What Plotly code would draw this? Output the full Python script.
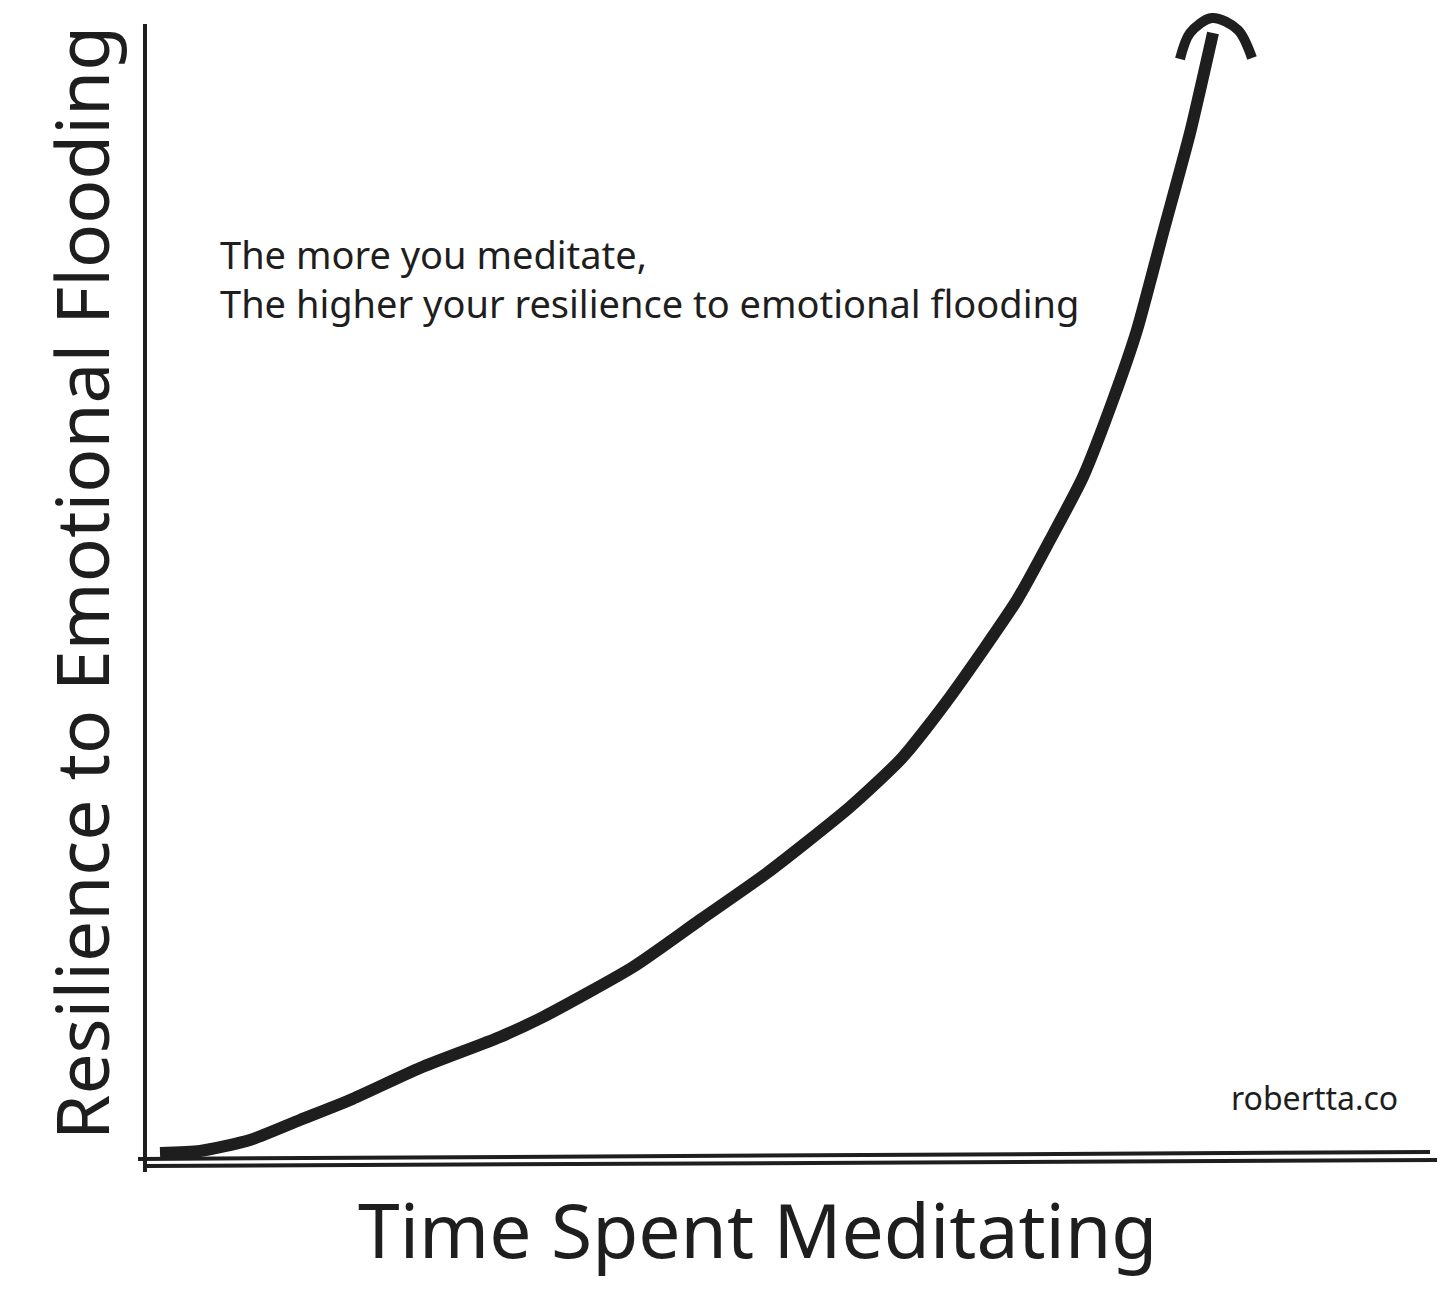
import plotly.graph_objects as go

# Data (abstract units: time spent meditating vs resilience)
time_spent = [0.15, 0.55, 1.05, 1.55, 2.05, 2.75, 3.55, 3.98, 4.88, 5.55, 6.22, 7.05, 7.57, 8.05,
              8.72, 9.05, 9.38, 9.68, 9.92, 10.18, 10.45, 10.68]
resilience = [0.07, 0.09, 0.20, 0.40, 0.60, 0.92, 1.23, 1.43, 1.93, 2.40, 2.87, 3.53, 4.02, 4.63,
              5.60, 6.20, 6.83, 7.60, 8.30, 9.27, 10.27, 11.27]

arrow_x = [10.35, 10.45, 10.67, 10.93, 11.07]
arrow_y = [11.01, 11.27, 11.42, 11.30, 11.02]

x_title = "Time Spent Meditating"
y_title = "Resilience to Emotional Flooding"
note_lines = ["The more you meditate,", "The higher your resilience to emotional flooding"]
credit = "robertta.co"

INK = "#1e1e1e"
W, H = 1456, 1300
FONT = "Noto Sans"
OFF = 8  # page body margin


def px(v):
    return (v - OFF) / W


def py(v):
    return 1 - (v - OFF) / H


fig = go.Figure()
fig.add_trace(go.Scatter(x=time_spent, y=resilience, mode="lines",
                         line=dict(color=INK, width=12, shape="spline", smoothing=0.6),
                         hoverinfo="skip", showlegend=False))
fig.add_trace(go.Scatter(x=arrow_x, y=arrow_y, mode="lines",
                         line=dict(color=INK, width=10, shape="spline", smoothing=0.9),
                         hoverinfo="skip", showlegend=False))

# hand-drawn axis lines
fig.add_shape(type="line", x0=0, y0=-0.12, x1=0.0, y1=11.36, xref="x", yref="y",
              line=dict(color=INK, width=4))
fig.add_shape(type="line", x0=-0.07, y0=0.01, x1=12.85, y1=0.08, xref="x", yref="y",
              line=dict(color=INK, width=4))
fig.add_shape(type="line", x0=0.0, y0=-0.06, x1=12.92, y1=0.0, xref="x", yref="y",
              line=dict(color=INK, width=4))

fig.add_annotation(text=y_title, x=px(80), y=py(583), xref="paper", yref="paper",
                   textangle=-90, showarrow=False, xanchor="center", yanchor="middle",
                   font=dict(family=FONT, size=73, color=INK))
fig.add_annotation(text=x_title, x=px(758), y=py(1229), xref="paper", yref="paper",
                   showarrow=False, xanchor="center", yanchor="middle",
                   font=dict(family=FONT, size=75, color=INK))
fig.add_annotation(text="<br>".join(note_lines), x=px(218), y=py(278), xref="paper", yref="paper",
                   showarrow=False, xanchor="left", yanchor="middle", align="left",
                   font=dict(family=FONT, size=38, color=INK))
fig.add_annotation(text=credit, x=px(1400), y=py(1097), xref="paper", yref="paper",
                   showarrow=False, xanchor="right", yanchor="middle",
                   font=dict(family=FONT, size=32, color=INK))

fig.update_layout(width=W, height=H, margin=dict(l=0, r=0, t=0, b=0),
                  paper_bgcolor="white", plot_bgcolor="white",
                  xaxis=dict(range=[-1.37, 13.19], visible=False, fixedrange=True),
                  yaxis=dict(range=[-1.48, 11.52], visible=False, fixedrange=True))

fig.write_html("out.html")
